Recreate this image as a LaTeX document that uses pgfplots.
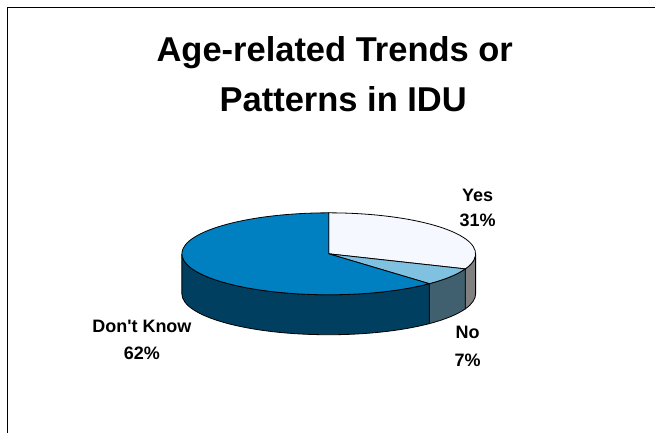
\documentclass[border=0pt]{standalone}
\usepackage{pgfplots}
\pgfplotsset{compat=1.18}
\usepackage{pgfplotstable}
\usepackage{fontspec}
\setmainfont{Liberation Sans}

\definecolor{yesTop}{HTML}{F5F9FF}
\definecolor{yesSide}{HTML}{808080}
\definecolor{noTop}{HTML}{80C0E0}
\definecolor{noSide}{HTML}{406070}
\definecolor{dkTop}{HTML}{0080C0}
\definecolor{dkSide}{HTML}{003F60}

\pgfplotstableread{
label value
Yes 31
No 7
DontKnow 62
}\piedata

\pgfplotstablegetelem{0}{value}\of\piedata \let\vYes\pgfplotsretval
\pgfplotstablegetelem{1}{value}\of\piedata \let\vNo\pgfplotsretval
\pgfplotstablegetelem{2}{value}\of\piedata \let\vDK\pgfplotsretval

% angles (clockwise from 12 o'clock)
\pgfmathsetmacro\aA{90}
\pgfmathsetmacro\aB{\aA-3.6*\vYes}
\pgfmathsetmacro\aC{\aB-3.6*\vNo}
\pgfmathsetmacro\aD{\aC-3.6*\vDK}

% geometry (1 axis unit = 1pt)
\def\cx{329}\def\cy{179}\def\rx{147}\def\ry{41}\def\dep{40}

\begin{document}
\begin{tikzpicture}
\begin{axis}[
  width=655pt, height=433pt, scale only axis,
  xmin=0, xmax=655, ymin=0, ymax=433,
  enlargelimits=false, hide axis, clip=false,
]
\path (axis cs:0,0) rectangle (axis cs:655,433);
% frame
\draw[black, line width=1pt] (axis cs:7.5,0) -- (axis cs:7.5,425.5) -- (axis cs:655,425.5);

% side faces (front half only)
\pgfmathsetmacro\sYx{\cx+\rx*cos(0)}\pgfmathsetmacro\sYy{\cy+\ry*sin(0)}
\filldraw[fill=yesSide, draw=black, line width=0.8pt]
  (axis cs:\sYx,\sYy) arc[start angle=0, end angle=\aB, x radius=\rx pt, y radius=\ry pt]
  -- ++(0pt,-\dep pt) arc[start angle=\aB, end angle=0, x radius=\rx pt, y radius=\ry pt] -- cycle;
\pgfmathsetmacro\sNx{\cx+\rx*cos(\aB)}\pgfmathsetmacro\sNy{\cy+\ry*sin(\aB)}
\filldraw[fill=noSide, draw=black, line width=0.8pt]
  (axis cs:\sNx,\sNy) arc[start angle=\aB, end angle=\aC, x radius=\rx pt, y radius=\ry pt]
  -- ++(0pt,-\dep pt) arc[start angle=\aC, end angle=\aB, x radius=\rx pt, y radius=\ry pt] -- cycle;
\pgfmathsetmacro\sDx{\cx+\rx*cos(\aC)}\pgfmathsetmacro\sDy{\cy+\ry*sin(\aC)}
\filldraw[fill=dkSide, draw=black, line width=0.8pt]
  (axis cs:\sDx,\sDy) arc[start angle=\aC, end angle=-180, x radius=\rx pt, y radius=\ry pt]
  -- ++(0pt,-\dep pt) arc[start angle=-180, end angle=\aC, x radius=\rx pt, y radius=\ry pt] -- cycle;

% top slices
\pgfmathsetmacro\tAx{\cx+\rx*cos(\aA)}\pgfmathsetmacro\tAy{\cy+\ry*sin(\aA)}
\filldraw[fill=yesTop, draw=black, line width=0.8pt]
  (axis cs:\cx,\cy) -- (axis cs:\tAx,\tAy) arc[start angle=\aA, end angle=\aB, x radius=\rx pt, y radius=\ry pt] -- cycle;
\filldraw[fill=noTop, draw=black, line width=0.8pt]
  (axis cs:\cx,\cy) -- (axis cs:\sNx,\sNy) arc[start angle=\aB, end angle=\aC, x radius=\rx pt, y radius=\ry pt] -- cycle;
\filldraw[fill=dkTop, draw=black, line width=0.8pt]
  (axis cs:\cx,\cy) -- (axis cs:\sDx,\sDy) arc[start angle=\aC, end angle=\aD, x radius=\rx pt, y radius=\ry pt] -- cycle;

% title
\node[anchor=base, font=\fontsize{34.5}{40}\selectfont\bfseries] at (axis cs:335,371.3) {Age-related Trends or};
\node[anchor=base, font=\fontsize{34.5}{40}\selectfont\bfseries] at (axis cs:343.5,321) {Patterns in IDU};

% labels
\node[anchor=base, font=\fontsize{18}{20}\selectfont\bfseries] at (axis cs:478,231) {Yes};
\node[anchor=base, font=\fontsize{18}{20}\selectfont\bfseries] at (axis cs:478,206) {\vYes\%};
\node[anchor=base, font=\fontsize{18}{20}\selectfont\bfseries] at (axis cs:468,94) {No};
\node[anchor=base, font=\fontsize{18}{20}\selectfont\bfseries] at (axis cs:468,66) {\vNo\%};
\node[anchor=base, font=\fontsize{18}{20}\selectfont\bfseries] at (axis cs:142,100) {Don\textquotesingle t Know};
\node[anchor=base, font=\fontsize{18}{20}\selectfont\bfseries] at (axis cs:142,73) {\vDK\%};
\end{axis}
\end{tikzpicture}
\end{document}
